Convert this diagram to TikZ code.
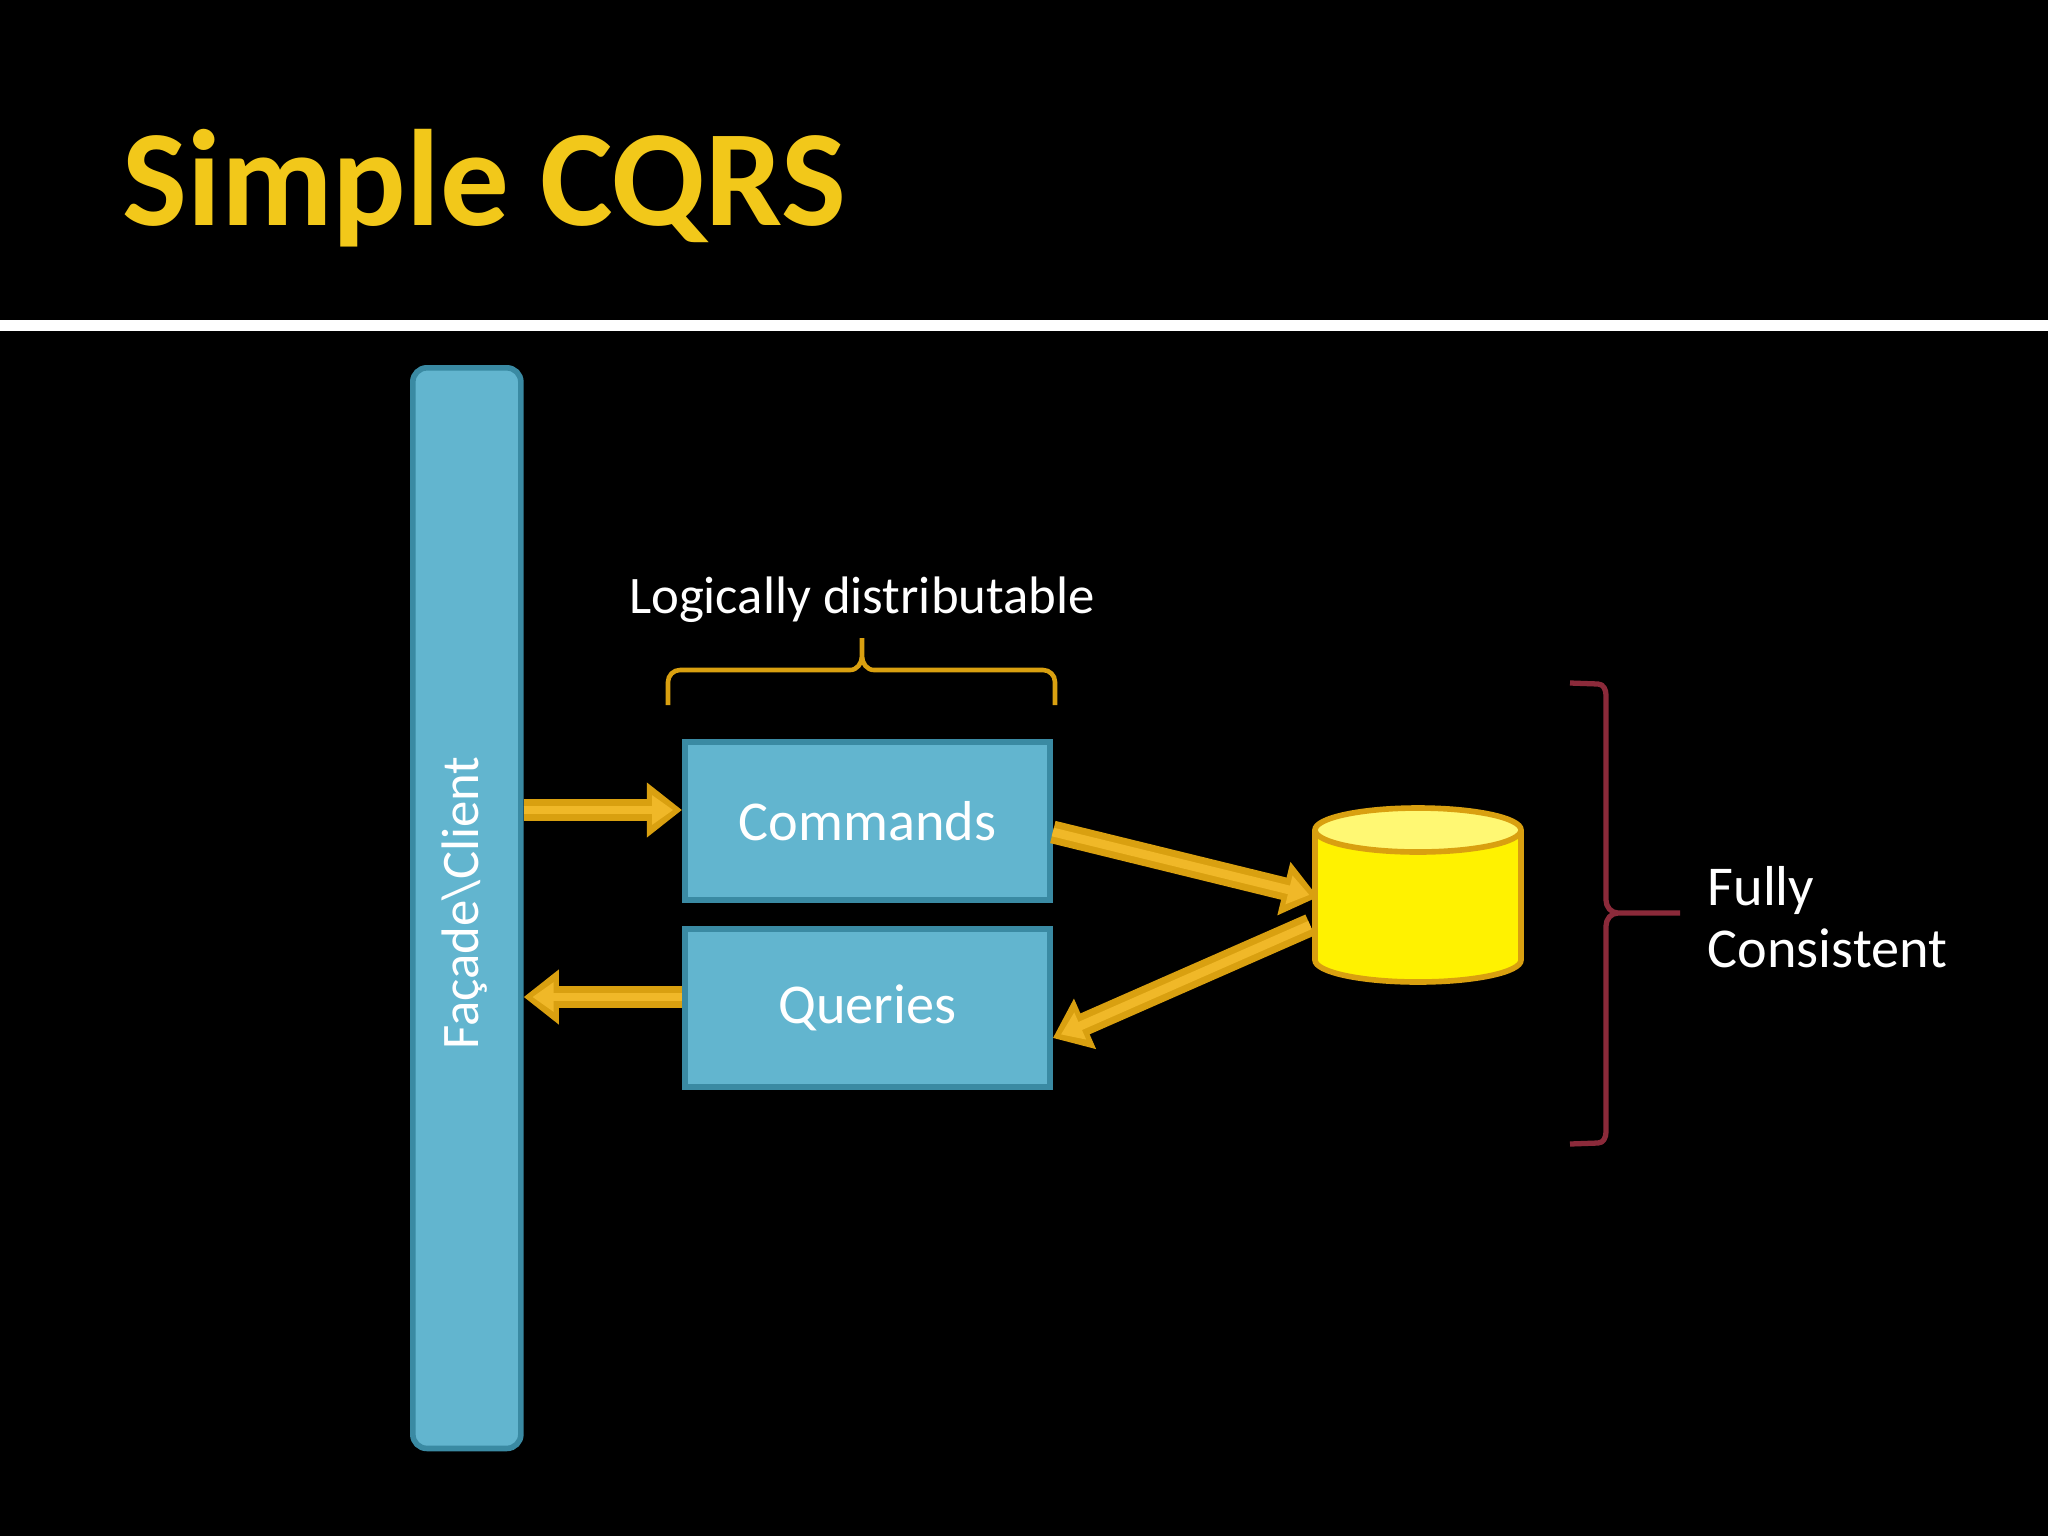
\documentclass[tikz,border=0pt]{standalone}
\usepackage{fontspec}
\setmainfont{Carlito}
\usetikzlibrary{arrows.meta}
\definecolor{boxblue}{HTML}{62B5CF}
\definecolor{boxedge}{HTML}{3A8AA3}
\definecolor{gold}{HTML}{D9A010}
\definecolor{goldin}{HTML}{F0B828}
\definecolor{brred}{HTML}{8B2A3A}
\definecolor{titley}{HTML}{F2C81A}
\begin{document}
\begin{tikzpicture}[x=0.01cm,y=-0.01cm,
  box/.style={draw=boxedge,line width=1.6pt,fill=boxblue,inner sep=0pt,anchor=north west,text=white},
  arr/.style={draw=gold,line width=6.5pt,-{Triangle[length=10pt,width=15pt]}},
  arrin/.style={draw=goldin,line width=2.5pt,-{Triangle[length=6pt,width=8pt]},shorten >=2.5pt},
  lbl/.style={text=white,inner sep=0pt}]
\fill[black] (0,0) rectangle (2048,1536);
\useasboundingbox (0,0) rectangle (2048,1536);
\node[anchor=west,text=titley,font=\bfseries\fontsize{39}{42}\selectfont,inner sep=0pt] (title) at (122,188) {Simple CQRS};
\fill[white] (0,320) rectangle (2048,331);
\node[box,rounded corners=4pt,minimum width=1.08cm,minimum height=10.8cm] (fac) at (410,365) {};
\node[lbl,rotate=90,font=\fontsize{15}{18}\selectfont] (factxt) at (465,903) {Façade\textbackslash Client};
\node[box,minimum width=3.65cm,minimum height=1.58cm,font=\fontsize{16}{20}\selectfont] (cmd) at (682,739) {Commands};
\node[box,minimum width=3.65cm,minimum height=1.58cm,font=\fontsize{16}{20}\selectfont] (qry) at (682,926) {Queries};
\node[lbl,font=\fontsize{15}{18}\selectfont] (ld) at (862,600) {Logically distributable};
\draw[gold,line width=1.3pt,line join=round] (668,705) -- (668,682) to[out=90,in=180] (680,670) -- (850,670) to[out=0,in=-90] (862,656) -- (862,638)
  (862,656) to[out=-90,in=180] (874,670) -- (1043,670) to[out=0,in=90] (1055,682) -- (1055,705);
% cylinder
\coordinate (db) at (1418,895);
\draw[gold,line width=1.6pt,fill=yellow] (1315,830) -- (1315,960) arc[start angle=180,end angle=360,x radius=103,y radius=-22] -- (1521,830);
\draw[gold,line width=1.6pt,fill=yellow!55!white] (1418,830) ellipse[x radius=103,y radius=22];
\coordinate (dbin) at (1318,897);
\coordinate (dbout) at (1310,925);
\draw[arr] (fac.east|-0,810) -- (cmd.west|-0,810);
\draw[arrin] (fac.east|-0,810) -- (cmd.west|-0,810);
\draw[arr] (qry.west|-0,997) -- (fac.east|-0,997);
\draw[arrin] (qry.west|-0,997) -- (fac.east|-0,997);
\draw[arr] (cmd.east|-0,832) -- (dbin);
\draw[arrin] (cmd.east|-0,832) -- (dbin);
\draw[arr] (dbout) -- (qry.east|-0,1038);
\draw[arrin] (dbout) -- (qry.east|-0,1038);
\draw[brred,line width=1.5pt,line join=round] (1570,683) -- (1598,684) to[out=0,in=90] (1606,695) -- (1606,900) to[out=-90,in=180] (1618,913) -- (1680,913)
  (1618,913) to[out=180,in=90] (1606,926) -- (1606,1132) to[out=-90,in=0] (1598,1143) -- (1570,1144);
\node[lbl,anchor=north west,align=left,font=\fontsize{16}{17.5}\selectfont] (fc) at (1707,866) {Fully\\Consistent};
\end{tikzpicture}
\end{document}
